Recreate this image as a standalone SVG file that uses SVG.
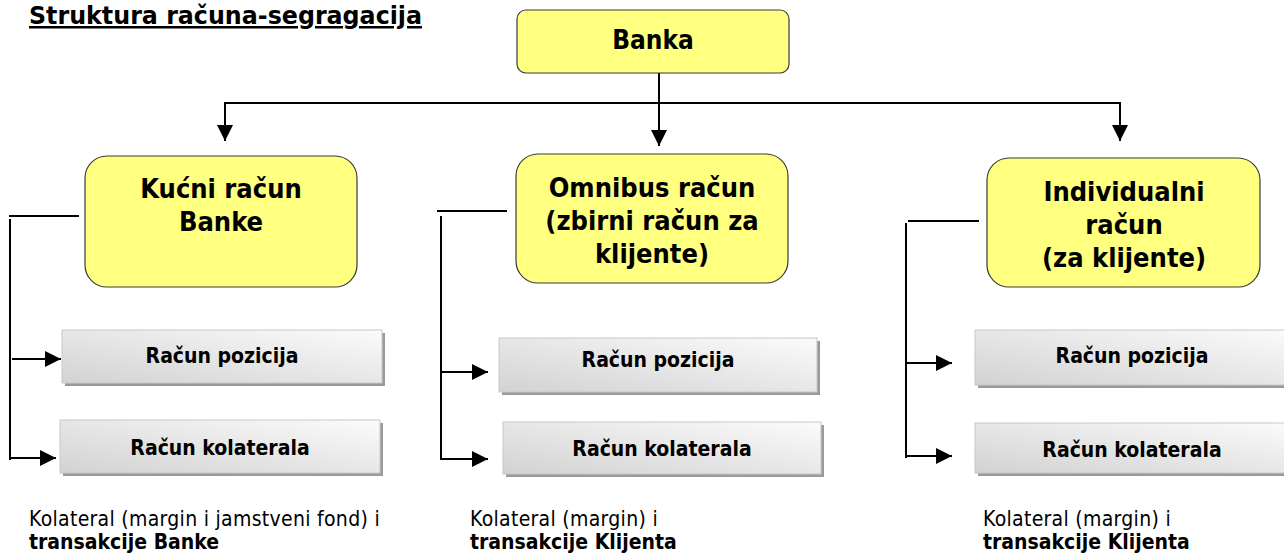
<svg xmlns="http://www.w3.org/2000/svg" width="1284" height="555" viewBox="0 0 1284 555">
<style>
text{font-family:"DejaVu Sans","Liberation Sans",sans-serif;font-stretch:condensed;fill:#000}
.t{font-size:25px;font-weight:bold;text-decoration:underline}
.y{fill:#FFFF80;stroke:#3a3a3a;stroke-width:1.2}
.yt{font-size:27px;font-weight:bold;text-anchor:middle}
.g{fill:url(#gg);stroke:#c8c8c8;stroke-width:1}
.sh{fill:#9a9a9a}
.gt{font-size:21px;font-weight:bold;text-anchor:middle}
.c{stroke:#000;stroke-width:2;fill:none}
.a{stroke:#000;stroke-width:2;fill:none;marker-end:url(#ah)}
.n{font-size:21px;letter-spacing:0.3px}
.b{font-size:21px;font-weight:bold}
</style>
<defs>
<linearGradient id="gg" x1="0" y1="1" x2="1" y2="0">
<stop offset="0" stop-color="#d2d2d2"/>
<stop offset="1" stop-color="#fbfbfb"/>
</linearGradient>
<marker id="ah" markerUnits="userSpaceOnUse" markerWidth="16" markerHeight="16" refX="16" refY="8" orient="auto" viewBox="0 0 16 16">
<path d="M0,0 L16,8 L0,16 z" fill="#000"/>
</marker>
</defs>
<text class="t" x="29" y="24" textLength="393" lengthAdjust="spacingAndGlyphs">Struktura računa-segragacija</text>

<g id="connectors">
<line class="c" x1="659" y1="73" x2="659" y2="103"/>
<line class="c" x1="225" y1="103" x2="1121" y2="103"/>
<line class="a" x1="225" y1="102" x2="225" y2="141"/>
<line class="a" x1="659" y1="102" x2="659" y2="146"/>
<line class="a" x1="1120" y1="102" x2="1120" y2="141"/>
<line class="c" x1="9" y1="216" x2="79" y2="216"/>
<line class="c" x1="10" y1="219" x2="10" y2="460"/>
<line class="a" x1="12" y1="359" x2="61" y2="359"/>
<line class="a" x1="10" y1="458" x2="56" y2="458"/>
<line class="c" x1="437" y1="211" x2="507" y2="211"/>
<line class="c" x1="441" y1="216" x2="441" y2="460"/>
<line class="a" x1="441" y1="372" x2="488" y2="372"/>
<line class="a" x1="441" y1="459" x2="488" y2="459"/>
<line class="c" x1="908" y1="221" x2="979" y2="221"/>
<line class="c" x1="906" y1="223" x2="906" y2="458"/>
<line class="a" x1="906" y1="363" x2="952" y2="363"/>
<line class="a" x1="906" y1="456" x2="952" y2="456"/>
</g>

<g id="banka">
<rect class="y" x="517" y="10" width="272" height="63" rx="9"/>
<text class="yt" x="653" y="49" style="font-size:26px">Banka</text>
</g>

<g id="kucni">
<rect class="y" x="85" y="156" width="272" height="131" rx="22"/>
<text class="yt" x="221" y="198">Kućni račun</text>
<text class="yt" x="221" y="231">Banke</text>
</g>

<g id="omnibus">
<rect class="y" x="516" y="154" width="272" height="129" rx="22"/>
<text class="yt" x="652" y="197">Omnibus račun</text>
<text class="yt" x="652" y="230">(zbirni račun za</text>
<text class="yt" x="652" y="263">klijente)</text>
</g>

<g id="individualni">
<rect class="y" x="987" y="158" width="273" height="129" rx="22"/>
<text class="yt" x="1124" y="201">Individualni</text>
<text class="yt" x="1124" y="234">račun</text>
<text class="yt" x="1124" y="267">(za klijente)</text>
</g>

<g id="pozicija1">
<rect class="sh" x="65" y="333" width="320" height="53"/>
<rect class="g" x="62" y="330" width="320" height="53"/>
<text class="gt" x="222" y="363">Račun pozicija</text>
</g>
<g id="kolaterala1">
<rect class="sh" x="63" y="423" width="320" height="53"/>
<rect class="g" x="60" y="420" width="320" height="53"/>
<text class="gt" x="220" y="455">Račun kolaterala</text>
</g>

<g id="pozicija2">
<rect class="sh" x="502" y="341" width="318" height="54"/>
<rect class="g" x="499" y="338" width="318" height="54"/>
<text class="gt" x="658" y="367">Račun pozicija</text>
</g>
<g id="kolaterala2">
<rect class="sh" x="506" y="425" width="318" height="52"/>
<rect class="g" x="503" y="422" width="318" height="52"/>
<text class="gt" x="662" y="456">Račun kolaterala</text>
</g>

<g id="pozicija3">
<rect class="sh" x="978" y="333" width="320" height="55"/>
<rect class="g" x="975" y="330" width="320" height="55"/>
<text class="gt" x="1132" y="363">Račun pozicija</text>
</g>
<g id="kolaterala3">
<rect class="sh" x="978" y="426" width="320" height="50"/>
<rect class="g" x="975" y="423" width="320" height="50"/>
<text class="gt" x="1132" y="457">Račun kolaterala</text>
</g>

<g id="note1">
<text class="n" x="29" y="526">Kolateral (margin i jamstveni fond) i</text>
<text class="b" x="29" y="549">transakcije Banke</text>
</g>
<g id="note2">
<text class="n" x="470" y="526">Kolateral (margin) i</text>
<text class="b" x="470" y="549">transakcije Klijenta</text>
</g>
<g id="note3">
<text class="n" x="983" y="526">Kolateral (margin) i</text>
<text class="b" x="983" y="549">transakcije Klijenta</text>
</g>
</svg>
